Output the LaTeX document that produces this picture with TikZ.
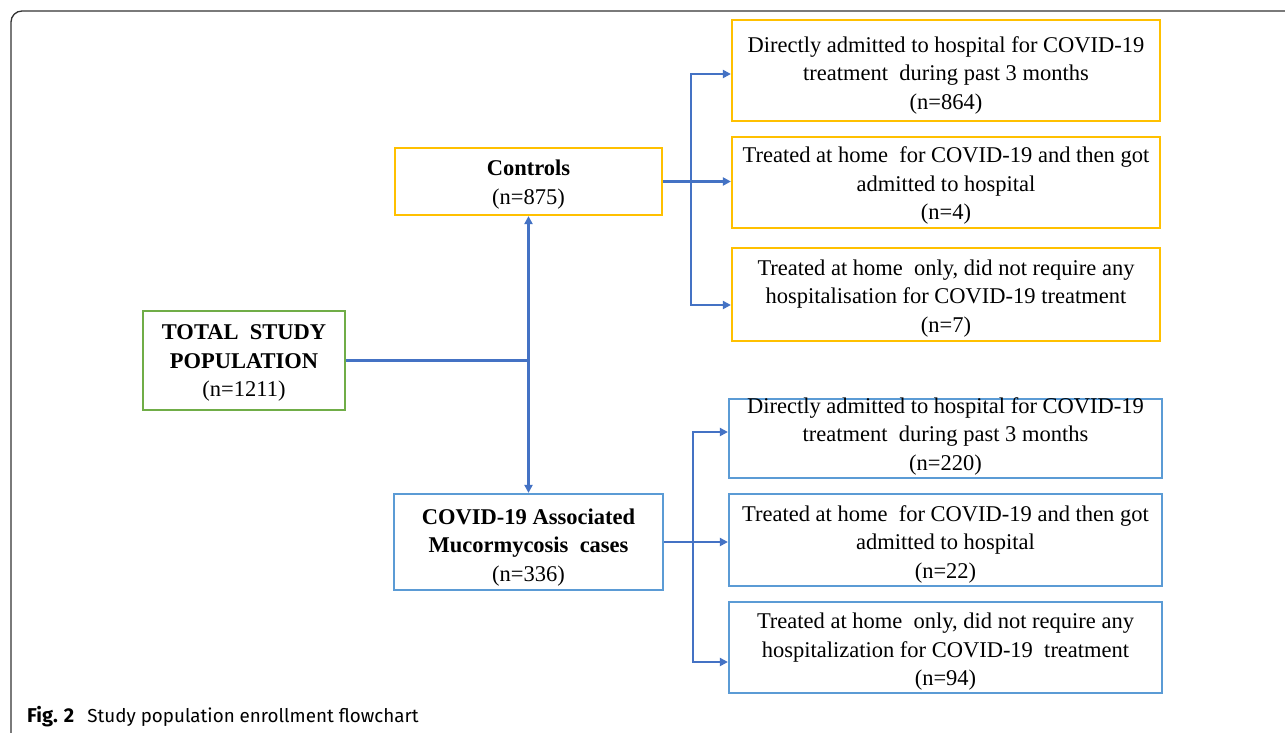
\documentclass[tikz,border=0pt]{standalone}
\usepackage{fontspec}
\setmainfont{Liberation Serif}
\newfontfamily\capfont{Fira Sans}
\usetikzlibrary{arrows.meta,calc}
\definecolor{gold}{HTML}{FFC000}
\definecolor{grn}{HTML}{70AD47}
\definecolor{bbox}{HTML}{5B9BD5}
\definecolor{arr}{HTML}{4472C4}
\definecolor{frame}{HTML}{333333}
\begin{document}
\begin{tikzpicture}[x=1pt,y=-1pt,
  box/.style={draw, line width=2.2pt, fill=white, align=center, inner sep=0pt,
    font=\fontsize{22.5}{28.5}\selectfont},
  ybox/.style={box, draw=gold},
  gbox/.style={box, draw=grn},
  bbx/.style={box, draw=bbox},
  conn/.style={draw=arr, line width=2.3pt},
  arrow/.style={conn, -{Triangle[length=8pt,width=8pt]}},
  darrow/.style={conn, {Triangle[length=8pt,width=8pt]}-{Triangle[length=8pt,width=8pt]}}
]
\useasboundingbox (0,0) rectangle (1285,733);
\fill[white] (0,0) rectangle (1285,733);
\draw[frame, line width=1.3pt, rounded corners=11pt] (1300,11) -- (11,11) -- (11,760);

\node[gbox, minimum width=202pt, minimum height=99pt, text height=77.6pt] (total) at (244,360.5)
  {\textbf{TOTAL\ \ STUDY}\\ \textbf{POPULATION}\\ (n=1211)};
\node[ybox, minimum width=267pt, minimum height=67pt, text height=50.1pt] (ctrl) at (528.5,181.5)
  {\textbf{Controls}\\ (n=875)};
\node[bbx, minimum width=269pt, minimum height=96pt, text height=83.6pt] (cam) at (528.5,542)
  {\textbf{COVID-19 Associated}\\ \textbf{Mucormycosis\ \ cases}\\ (n=336)};

\node[ybox, minimum width=428pt, minimum height=101pt, text height=82.6pt] (y1) at (946,70.5)
  {Directly admitted to hospital for COVID-19\\ treatment\ \ during past 3 months\\ (n=864)};
\node[ybox, minimum width=428pt, minimum height=91pt, text height=79.6pt] (y2) at (946,182.5)
  {Treated at home\ \ for COVID-19 and then got\\ admitted to hospital\\ (n=4)};
\node[ybox, minimum width=428pt, minimum height=93pt, text height=80.6pt] (y3) at (946,294.5)
  {Treated at home\ \ only, did not require any\\ hospitalisation for COVID-19 treatment\\ (n=7)};

\node[bbx, minimum width=433pt, minimum height=79pt, text height=68.6pt] (b1) at (945.5,438.5)
  {Directly admitted to hospital for COVID-19\\ treatment\ \ during past 3 months\\ (n=220)};
\node[bbx, minimum width=433pt, minimum height=92pt, text height=81.6pt] (b2) at (945.5,540)
  {Treated at home\ \ for COVID-19 and then got\\ admitted to hospital\\ (n=22)};
\node[bbx, minimum width=433pt, minimum height=91pt, text height=81.6pt] (b3) at (945.5,647.5)
  {Treated at home\ \ only, did not require any\\ hospitalization for COVID-19\ \ treatment\\ (n=94)};

% trunk
\coordinate (j) at (ctrl.south |- total.east);
\draw[conn] (total.east) -- (j);
\draw[arrow] (j) -- (ctrl.south);
\draw[arrow] (j) -- (cam.north);

% controls branch
\coordinate (ca) at (691,74);
\coordinate (cc) at (691,305);
\draw[arrow] (ctrl.east) -- (ctrl.east -| y2.west);
\draw[darrow] (ca -| y1.west) -- (ca) -- (cc) -- (cc -| y3.west);

% cases branch
\coordinate (ba) at (693,432);
\coordinate (bc) at (693,662);
\draw[arrow] (cam.east) -- (cam.east -| b2.west);
\draw[darrow] (ba -| b1.west) -- (ba) -- (bc) -- (bc -| b3.west);

\node[anchor=base west, inner sep=0pt, font=\capfont\fontsize{18.8}{22}\selectfont] (cap) at (27,722)
  {\textbf{\fontsize{20}{22}\selectfont Fig.\hspace{0.3em}2}\hspace{0.7em}Study population enrollment flowchart};
\end{tikzpicture}
\end{document}
